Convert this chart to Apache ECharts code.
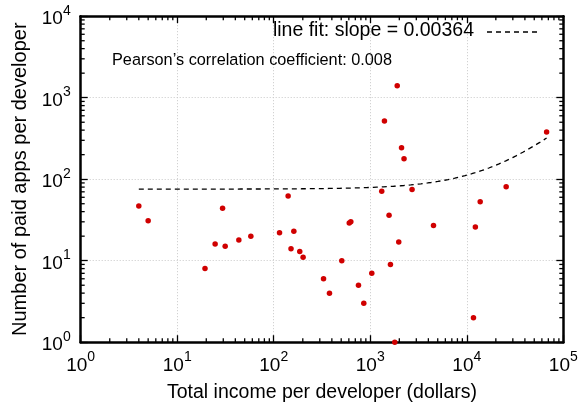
<!DOCTYPE html>
<html>
<head>
<meta charset="utf-8">
<script src="https://cdn.jsdelivr.net/npm/echarts@6/dist/echarts.min.js"></script>
<style>
  html, body { margin: 0; padding: 0; background: #fff; }
  #chart { width: 584px; height: 409px; }
</style>
</head>
<body>
<div id="chart"></div>
<script>
// Total income per developer (dollars)
const incomeDollars = [4, 5, 19.4, 24.7, 29.5, 31.4, 43.5, 57.9, 114.8, 141,
  151, 161.5, 186, 201.5, 328, 378, 507, 606, 629, 755,
  857, 1037, 1315, 1403, 1566, 1619, 1794, 1902, 1973, 2109,
  2238, 2711, 4520, 11730, 12270, 13770, 25590, 67140];
// Number of paid apps per developer
const paidApps = [47, 31, 8, 16, 44, 15, 18, 20, 22, 62,
  14, 23, 13, 11, 6, 4, 10, 29, 30, 5,
  3, 7, 71, 518, 36, 9, 1, 1403, 17, 244,
  178, 75, 27, 2, 26, 53, 81, 379];

// Linear fit y = intercept + slope * x
const fitSlope = 0.00364;
const fitIntercept = 75.6;
const pearsonR = 0.008;

// Axis ranges (decades) and minor tick multipliers
const xDecades = [1, 10, 100, 1000, 10000, 100000];
const yDecades = [1, 10, 100, 1000, 10000];
const minorSteps = [2, 3, 4, 5, 6, 7, 8, 9];

const FONT = 'Liberation Sans';

const points = incomeDollars.map((x, i) => [x, paidApps[i]]);

// Fit curve sampled on a log grid over the data range
const xMin = Math.min(...incomeDollars), xMax = Math.max(...incomeDollars);
const fitLine = [];
const nFit = 120;
for (let k = 0; k <= nFit; k++) {
  const x = Math.pow(10, Math.log10(xMin) + (Math.log10(xMax) - Math.log10(xMin)) * k / nFit);
  fitLine.push([x, fitIntercept + fitSlope * x]);
}

const xMinor = [], yMinor = [];
xDecades.slice(0, -1).forEach(d => minorSteps.forEach(m => xMinor.push(d * m)));
yDecades.slice(0, -1).forEach(d => minorSteps.forEach(m => yMinor.push(d * m)));

const powLabel = v => '{b|10}{s|' + Math.round(Math.log10(v)) + '}';
const labelRich = {
  b: { fontFamily: FONT, fontSize: 19, color: '#000', lineHeight: 25, verticalAlign: 'bottom' },
  s: { fontFamily: FONT, fontSize: 14, color: '#000', lineHeight: 25, verticalAlign: 'top' }
};

const tickStyle = { color: '#000', width: 1.3 };
const MINOR_LEN = 4;
const DASH = [5, 4];

const chart = echarts.init(document.getElementById('chart'), null, { renderer: 'canvas' });

chart.setOption({
  animation: false,
  backgroundColor: '#fff',
  grid: { left: 80.7, right: 20.7, top: 16.2, bottom: 66.8 },
  title: {
    text: 'Pearson’s correlation coefficient: ' + pearsonR,
    left: 107, top: 48,
    textStyle: { fontFamily: FONT, fontSize: 16.3, fontWeight: 'normal', color: '#000' }
  },
  graphic: [
    {
      // key entry for the fitted line
      type: 'text', right: 584 - 474, top: 21, z: 10,
      style: { text: 'line fit: slope = ' + fitSlope, fontFamily: FONT, fontSize: 19.5, fill: '#000' }
    },
    {
      type: 'line', z: 10,
      shape: { x1: 487, y1: 32, x2: 540, y2: 32 },
      style: { stroke: '#000', lineWidth: 1.3, lineDash: DASH }
    }
  ],
  xAxis: [{
    type: 'log', logBase: 10, min: 1, max: 100000,
    name: 'Total income per developer (dollars)',
    nameLocation: 'middle', nameGap: 40,
    nameTextStyle: { fontFamily: FONT, fontSize: 19.5, color: '#000' },
    axisLine: { lineStyle: { color: '#000', width: 2.5 } },
    axisTick: { inside: true, length: 7, lineStyle: tickStyle },
    axisLabel: { formatter: powLabel, rich: labelRich, margin: 8 },
    splitLine: { show: true, lineStyle: { color: '#c8c8c8', type: [1, 2], width: 1 } }
  }, {
    type: 'log', logBase: 10, min: 1, max: 100000, position: 'top',
    axisLine: { lineStyle: { color: '#000', width: 2.5 } },
    axisTick: { inside: true, length: 7, lineStyle: tickStyle },
    axisLabel: { show: false },
    splitLine: { show: false }
  }],
  yAxis: [{
    type: 'log', logBase: 10, min: 1, max: 10000,
    name: 'Number of paid apps per developer',
    nameLocation: 'middle', nameGap: 41,
    nameTextStyle: { fontFamily: FONT, fontSize: 20, color: '#000' },
    axisLine: { lineStyle: { color: '#000', width: 2.5 } },
    axisTick: { inside: true, length: 7, lineStyle: tickStyle },
    axisLabel: { formatter: powLabel, rich: labelRich, margin: 10 },
    splitLine: { show: true, lineStyle: { color: '#c8c8c8', type: [1, 2], width: 1 } }
  }, {
    type: 'log', logBase: 10, min: 1, max: 10000, position: 'right',
    axisLine: { lineStyle: { color: '#000', width: 2.5 } },
    axisTick: { inside: true, length: 7, lineStyle: tickStyle },
    axisLabel: { show: false },
    splitLine: { show: false }
  }],
  series: [
    {
      // minor ticks along the bottom and top edges
      type: 'custom', xAxisIndex: 0, yAxisIndex: 0, silent: true, clip: false, z: 5,
      data: xMinor,
      renderItem: (params, api) => {
        const v = api.value(0);
        const b = api.coord([v, 1]);
        const t = api.coord([v, 10000]);
        return { type: 'group', children: [
          { type: 'line', shape: { x1: b[0], y1: b[1], x2: b[0], y2: b[1] - MINOR_LEN }, style: { stroke: '#000', lineWidth: 1.3 } },
          { type: 'line', shape: { x1: t[0], y1: t[1], x2: t[0], y2: t[1] + MINOR_LEN }, style: { stroke: '#000', lineWidth: 1.3 } }
        ] };
      },
      encode: { x: 0 }
    },
    {
      // minor ticks along the left and right edges
      type: 'custom', xAxisIndex: 0, yAxisIndex: 0, silent: true, clip: false, z: 5,
      data: yMinor.map(v => [1, v]),
      renderItem: (params, api) => {
        const v = api.value(1);
        const l = api.coord([1, v]);
        const r = api.coord([100000, v]);
        return { type: 'group', children: [
          { type: 'line', shape: { x1: l[0], y1: l[1], x2: l[0] + MINOR_LEN, y2: l[1] }, style: { stroke: '#000', lineWidth: 1.3 } },
          { type: 'line', shape: { x1: r[0], y1: r[1], x2: r[0] - MINOR_LEN, y2: r[1] }, style: { stroke: '#000', lineWidth: 1.3 } }
        ] };
      },
      encode: { x: 0, y: 1 }
    },
    {
      name: 'line fit',
      type: 'line', xAxisIndex: 0, yAxisIndex: 0,
      data: fitLine, showSymbol: false, symbol: 'none', smooth: false,
      lineStyle: { color: '#000', width: 1.3, type: DASH },
      z: 3
    },
    {
      name: 'data',
      type: 'scatter', xAxisIndex: 0, yAxisIndex: 0,
      data: points, symbol: 'circle', symbolSize: 5.5, clip: false,
      itemStyle: { color: '#d00000', opacity: 1 },
      z: 4
    }
  ]
});
</script>
</body>
</html>
